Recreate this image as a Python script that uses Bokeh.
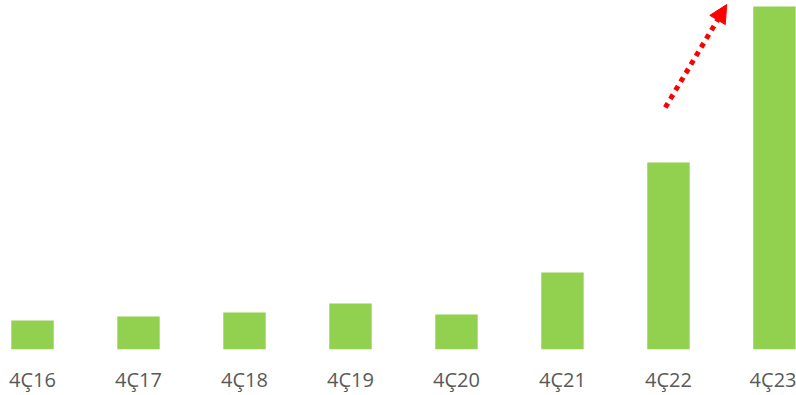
from bokeh.plotting import figure
from bokeh.models import ColumnDataSource, Range1d, Arrow, NormalHead, FixedTicker
from bokeh.embed import file_html
from bokeh.resources import INLINE

# Data
categories = ["4Ç16", "4Ç17", "4Ç18", "4Ç19", "4Ç20", "4Ç21", "4Ç22", "4Ç23"]
values = [29, 33, 37, 46, 35, 77, 187, 343]

# Trend arrow (data coordinates)
arrow_x = [5.97, 6.55]
arrow_y = [242, 345]

xs = list(range(len(categories)))
src = ColumnDataSource(dict(x=xs, top=values, label=categories))

p = figure(width=796, height=395, output_backend="svg", toolbar_location=None,
           x_range=Range1d(-0.302, 7.208), y_range=Range1d(0, 349),
           min_border_left=0, min_border_right=0, min_border_top=0, min_border_bottom=46)

p.vbar(x="x", top="top", width=0.4, bottom=0, source=src,
       fill_color="#92D050", line_color=None)

p.add_layout(Arrow(x_start=arrow_x[0], y_start=arrow_y[0], x_end=arrow_x[1], y_end=arrow_y[1],
                   line_color="#FF0000", line_width=5, line_dash="5 5",
                   end=NormalHead(size=18, fill_color="#FF0000", line_color="#FF0000", line_width=1)))

p.yaxis.visible = False
p.xgrid.visible = False
p.ygrid.visible = False
p.outline_line_color = None
p.background_fill_color = "white"
p.border_fill_color = "white"

ax = p.xaxis[0]
ax.ticker = FixedTicker(ticks=xs)
ax.major_label_overrides = {i: c for i, c in enumerate(categories)}
ax.axis_line_color = None
ax.major_tick_line_color = None
ax.minor_tick_line_color = None
ax.major_tick_out = 0
ax.major_tick_in = 0
ax.major_label_standoff = 16
ax.major_label_text_font = "Open Sans"
ax.major_label_text_font_size = "20px"
ax.major_label_text_color = "#595959"

open("out.html", "w").write(file_html(p, INLINE))
